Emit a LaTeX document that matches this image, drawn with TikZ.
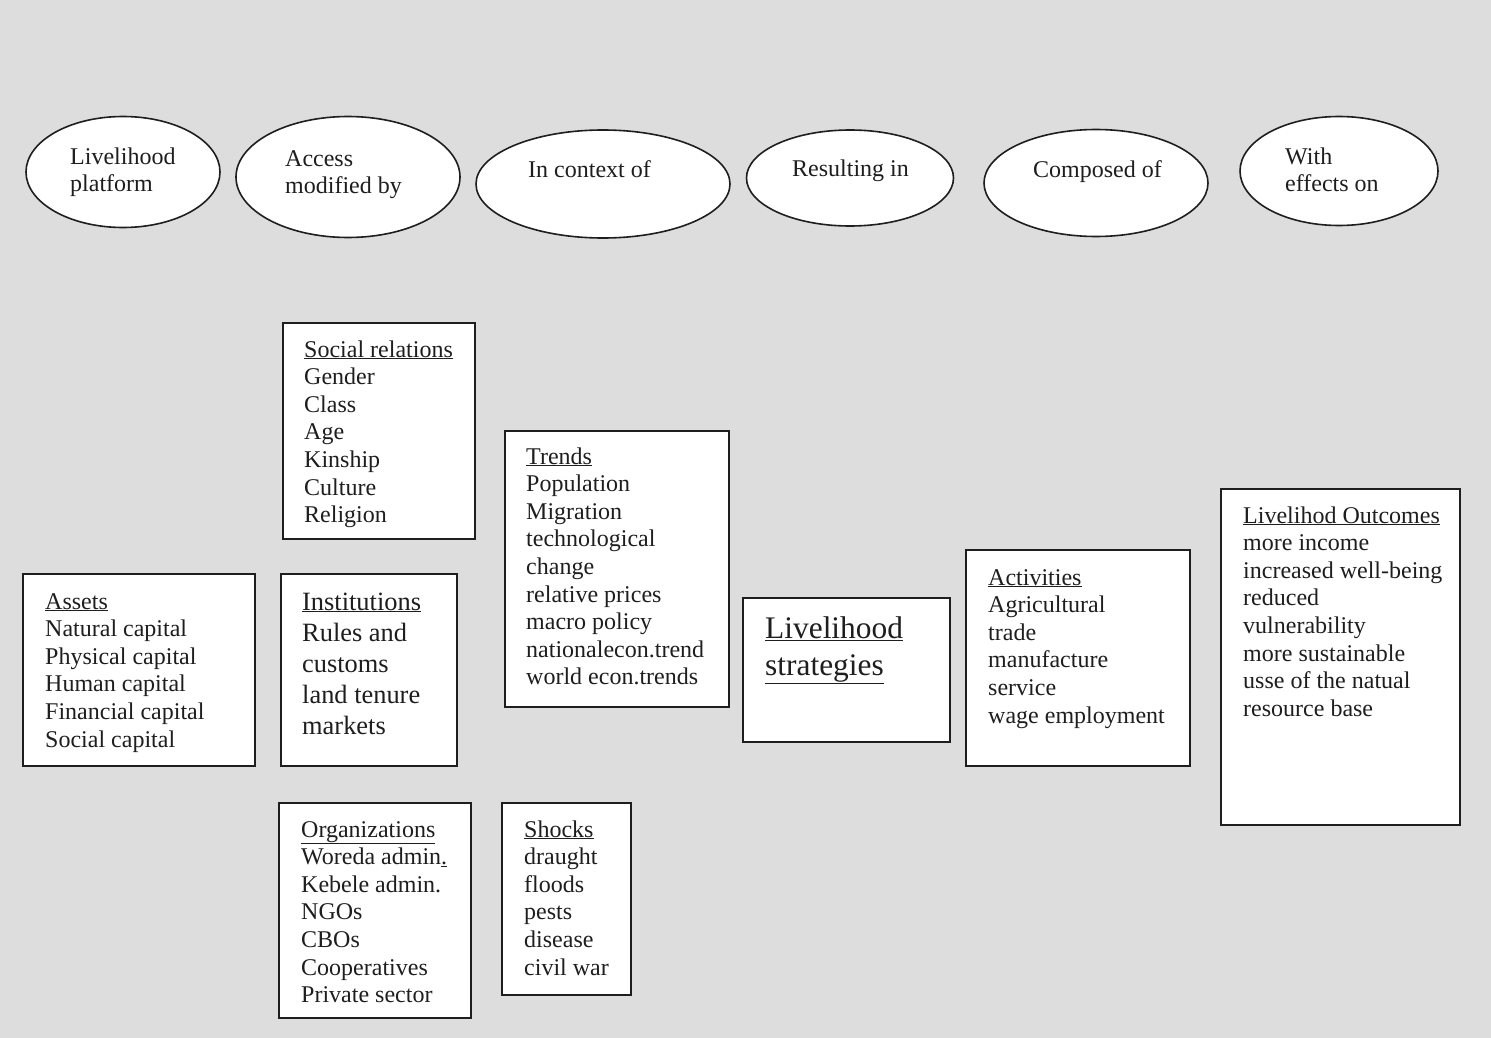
\documentclass[tikz,border=0pt]{standalone}
\usepackage{fontspec}
\setmainfont{Liberation Serif}
\usetikzlibrary{shapes.geometric}
\definecolor{bg}{RGB}{221,221,221}
\definecolor{ink}{RGB}{30,30,30}
\tikzset{
  oval/.style={ellipse, draw=ink, line width=1.6pt, fill=white, inner sep=0pt},
  panel/.style={draw=ink, line width=1.6pt, fill=white, inner sep=0pt},
  lbl/.style={anchor=base west, align=left, inner sep=0pt, text=ink,
    font=\fontsize{24}{27.6}\selectfont},
  lblbig/.style={lbl, font=\fontsize{26.4}{31}\selectfont},
  lblhuge/.style={lbl, font=\fontsize{31.4}{37.5}\selectfont},
}
\begin{document}
\begin{tikzpicture}[x=1pt,y=-1pt]
\fill[bg] (0,0) rectangle (1491,1038);
\useasboundingbox (0,0) rectangle (1491,1038);

% ---------- ellipses ----------
\node[oval, minimum width=194pt, minimum height=111pt] (e1) at (123,172) {};
\node[oval, minimum width=224pt, minimum height=121pt] (e2) at (348,177) {};
\node[oval, minimum width=254pt, minimum height=108pt] (e3) at (603,184) {};
\node[oval, minimum width=207pt, minimum height=96pt]  (e4) at (850,178) {};
\node[oval, minimum width=224pt, minimum height=107pt] (e5) at (1096,183) {};
\node[oval, minimum width=198pt, minimum height=109pt] (e6) at (1339,171) {};

% (anchor base = baseline of the LAST line)
\node[lbl] (t1) at (70,191.6)   {Livelihood\\platform};
\node[lbl] (t2) at (285,193.6)  {Access\\modified by};
\node[lbl] (t3) at (528,177)    {In context of};
\node[lbl] (t4) at (792,176)    {Resulting in};
\node[lbl] (t5) at (1033,177)   {Composed of};
\node[lbl] (t6) at (1285,191.6) {With\\effects on};

% ---------- boxes ----------
\node[panel, minimum width=192pt, minimum height=216pt] (social) at (379,431) {};
\node[panel, minimum width=224pt, minimum height=276pt] (trends) at (617,569) {};
\node[panel, minimum width=232pt, minimum height=192pt] (assets) at (139,670) {};
\node[panel, minimum width=176pt, minimum height=192pt] (inst)   at (369,670) {};
\node[panel, minimum width=207pt, minimum height=144pt] (strat)  at (846.5,670) {};
\node[panel, minimum width=224pt, minimum height=216pt] (activ)  at (1078,658) {};
\node[panel, minimum width=239pt, minimum height=336pt] (outc)   at (1340.5,657) {};
\node[panel, minimum width=192pt, minimum height=215pt] (org)    at (375,910.5) {};
\node[panel, minimum width=129pt, minimum height=192pt] (shocks) at (566.5,899) {};

\node[lbl] (social-t) at (304,522.6) {\underline{Social relations}\\Gender\\Class\\Age\\Kinship\\Culture\\Religion};
\node[lbl] (trends-t) at (526,684.8) {\underline{Trends}\\Population\\Migration\\technological\\change\\relative prices\\macro policy\\nationalecon.trend\\world econ.trends};
\node[lbl] (assets-t) at (45,747) {\underline{Assets}\\Natural capital\\Physical capital\\Human capital\\Financial capital\\Social capital};
\node[lblbig] (inst-t) at (302,734) {\underline{Institutions}\\Rules and\\customs\\land tenure\\markets};
\node[lblhuge] (strat-t) at (765,675.5) {\underline{Livelihood}\\\underline{strategies}};
\node[lbl] (activ-t) at (988,723) {\underline{Activities}\\Agricultural\\trade\\manufacture\\service\\wage employment};
\node[lbl] (outc-t) at (1243,716.2) {\underline{Livelihod Outcomes}\\more income\\increased well-being\\reduced\\vulnerability\\more sustainable\\usse of the natual\\resource base};
\node[lbl] (org-t) at (301,1002.6) {\underline{Organizations}\\Woreda admin\underline{.}\\Kebele admin.\\NGOs\\CBOs\\Cooperatives\\Private sector};
\node[lbl] (shocks-t) at (524,975) {\underline{Shocks}\\draught\\floods\\pests\\disease\\civil war};
\end{tikzpicture}
\end{document}
